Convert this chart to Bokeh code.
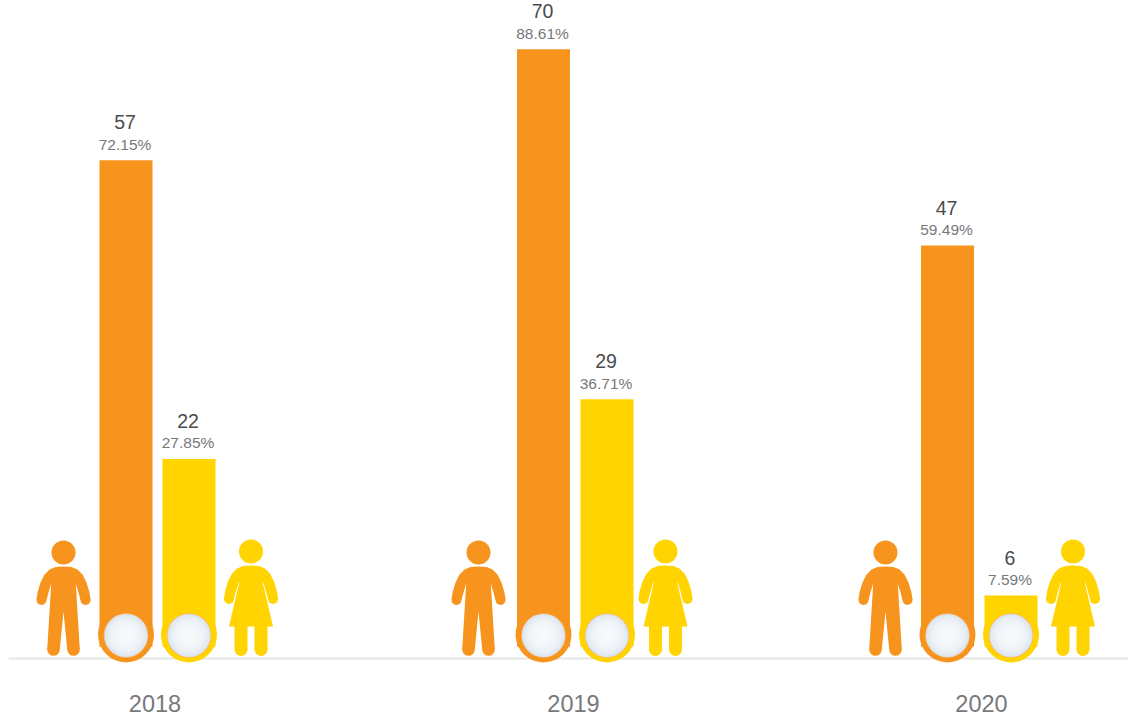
from bokeh.embed import file_html
from bokeh.resources import INLINE
from bokeh.models import ColumnDataSource, FixedTicker, Range1d
from bokeh.core.properties import value
from bokeh.plotting import figure

# Head counts and shares per year
years = ["2018", "2019", "2020"]
men = [57, 70, 47]
women = [22, 29, 6]
men_share = ["72.15%", "88.61%", "59.49%"]
women_share = ["27.85%", "36.71%", "7.59%"]

ORANGE = "#F7941D"
YELLOW = "#FFD400"

# Horizontal layout, in page pixels
men_bar_x = [125.5, 543, 947]
women_bar_x = [188.5, 606.5, 1010.5]
man_icon_x = [63, 478, 885]
woman_icon_x = [250.5, 665, 1072.5]
year_label_x = [154.5, 573, 981]
BAR_W = 53

p = figure(width=1128, height=720, output_backend="svg", toolbar_location=None,
           x_range=Range1d(8, 1128), y_range=Range1d(-8.63, 75.7),
           min_border=0, min_border_left=8, outline_line_color=None,
           background_fill_color="white", border_fill_color="white")
p.grid.visible = False
p.yaxis.visible = False

# Decorations (icons, bulbs, baseline) are laid out on a pixel-based vertical range
p.extra_y_ranges = {"px": Range1d(720, 0)}

# The baseline sits behind the bulbs, so it is a glyph rather than the axis line
p.segment(x0=[8], x1=[1128], y0=[658], y1=[658], line_color="#E6E6E6", line_width=2,
          y_range_name="px")

# Year labels
axis = p.xaxis[0]
axis.fixed_location = -1.4
axis.ticker = FixedTicker(ticks=year_label_x)
axis.major_label_overrides = {x: y for x, y in zip(year_label_x, years)}
axis.major_tick_line_color = None
axis.minor_tick_line_color = None
axis.axis_line_color = None
axis.major_label_standoff = 30
axis.major_label_text_font = "Liberation Sans"
axis.major_label_text_font_size = "23.5px"
axis.major_label_text_color = "#77787B"


def draw_bars(xs, counts, shares, color):
    src = ColumnDataSource(dict(x=xs, top=counts, count=[str(c) for c in counts], share=shares))
    p.vbar(x="x", top="top", bottom=0, width=BAR_W, color=color, line_width=0, source=src)
    p.text(x="x", y="top", text="count", source=src, x_offset=-1, y_offset=-38, text_align="center",
           text_baseline="middle", text_font=value("Liberation Sans"), text_font_size="19.5px",
           text_color="#4A4B4D")
    p.text(x="x", y="top", text="share", source=src, x_offset=-1, y_offset=-16, text_align="center",
           text_baseline="middle", text_font=value("Liberation Sans"), text_font_size="15.5px",
           text_color="#77787B")
    # Bulb at the foot of each bar: coloured ring, then a softly shaded disc
    p.circle(x=xs, y=[634] * 3, radius=28, color=color, line_width=0, y_range_name="px")
    p.circle(x=xs, y=[635] * 3, radius=22.3, fill_color="#F9B56A", line_width=0, y_range_name="px")
    shades = ["#DCE6EF", "#E3EBF2", "#E9EFF5", "#EEF3F7", "#F2F5F9", "#F5F8FA", "#F7F9FB"]
    radii = [21.6, 20, 18, 15.5, 12.5, 9, 5]
    for r, shade in zip(radii, shades):
        p.circle(x=xs, y=[635] * 3, radius=r, color=shade, line_width=0, y_range_name="px")


def upper_body(cx, head_y, color):
    """Head, shoulders and arms, as offsets from the figure's centre line."""
    p.circle(x=[cx], y=[head_y], radius=12, color=color, line_width=0, y_range_name="px")
    dy = head_y - 552
    left_dx = [0, -8, -14, -19, -23, -26, -27, -17, -15, -12.3]
    left_y = [566, 566.5, 569, 574, 582, 592, 599.5, 599.5, 592, 583]
    xs = [cx + d for d in left_dx] + [cx - d for d in reversed(left_dx)]
    ys = [y + dy for y in left_y] + [y + dy for y in reversed(left_y)]
    p.patch(xs, ys, color=color, line_width=0, y_range_name="px")
    p.circle(x=[cx - 22, cx + 22], y=[599.5 + dy] * 2, radius=5, color=color, line_width=0,
             y_range_name="px")


def draw_man(cx, color):
    upper_body(cx, 552, color)
    # Starts inside the chest so no seam shows where the two shapes meet
    p.patch([cx - 11.8, cx - 12.3, cx - 16.3, cx - 3.7, cx, cx + 3.7, cx + 16.3, cx + 12.3, cx + 11.8],
            [575, 583, 649, 649, 611, 649, 649, 583, 575], color=color, line_width=0, y_range_name="px")
    p.circle(x=[cx - 10, cx + 10], y=[649, 649], radius=6.3, color=color, line_width=0,
             y_range_name="px")


def draw_woman(cx, color):
    upper_body(cx, 551, color)
    p.patch([cx - 11, cx - 11.5, cx - 22, cx + 22, cx + 11.5, cx + 11],
            [574, 581, 626, 626, 581, 574], color=color, line_width=0, y_range_name="px")
    p.quad(left=[cx - 16.5, cx + 3.5], right=[cx - 3.5, cx + 16.5], top=[620, 620], bottom=[649, 649],
           color=color, line_width=0, y_range_name="px")
    p.circle(x=[cx - 10, cx + 10], y=[649, 649], radius=6.5, color=color, line_width=0,
             y_range_name="px")


draw_bars(men_bar_x, men, men_share, ORANGE)
draw_bars(women_bar_x, women, women_share, YELLOW)
for x in man_icon_x:
    draw_man(x, ORANGE)
for x in woman_icon_x:
    draw_woman(x, YELLOW)

open("out.html", "w").write(file_html(p, INLINE))
